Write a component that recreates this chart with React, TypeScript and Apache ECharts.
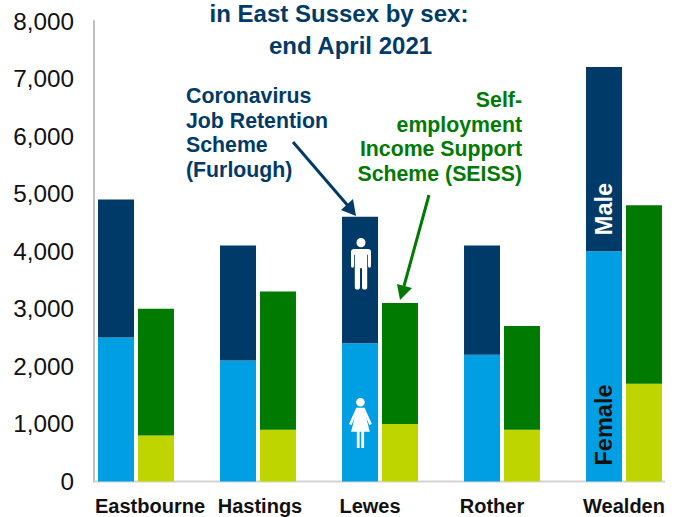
import React, { useEffect, useRef } from "react";
import * as echarts from "echarts";

const categories = ["Eastbourne", "Hastings", "Lewes", "Rother", "Wealden"];
const labelShifts = [14, 2, -10, -10, 0];
const furloughFemale = [2500, 2100, 2400, 2200, 4000];
const furloughMale = [2400, 2000, 2200, 1900, 3200];
const seissFemale = [800, 900, 1000, 900, 1700];
const seissMale = [2200, 2400, 2100, 1800, 3100];

const FONT = '"Liberation Sans", Arial, sans-serif';
const NAVY = "#003A69";
const GREEN = "#007A00";

echarts.graphic.registerShape(
  "maleIcon",
  echarts.graphic.extendPath(
    "M10 0a4.5 4.5 0 1 1 0 9a4.5 4.5 0 1 1 0-9zM3 10.5H17a3 3 0 0 1 3 3V27a1.5 1.5 0 0 1-3 0V16h-.8V47a2 2 0 0 1-5.2 0V29H9V47a2 2 0 0 1-5.2 0V16H3V27a1.5 1.5 0 0 1-3 0V13.5a3 3 0 0 1 3-3z",
    {}
  )
);
echarts.graphic.registerShape(
  "femaleIcon",
  echarts.graphic.extendPath(
    "M11 0a4.2 4.2 0 1 1 0 8.4a4.2 4.2 0 1 1 0-8.4zM7 9.5H15L22 25.5L19.5 26.5L16.5 19L20 33H14.5V49H11.8V33H10.2V49H7.5V33H2L5.5 19L2.5 26.5L0 25.5z",
    {}
  )
);

export default function App() {
  const ref = useRef<HTMLDivElement>(null);
  useEffect(() => {
    const chart = echarts.init(ref.current!, null, { renderer: "svg" });
    const bar = (name: string, stack: string, color: string, data: number[]) => ({
      name,
      type: "bar",
      stack,
      data,
      barWidth: 36,
      barGap: "11%",
      itemStyle: { color },
    });
    const text = (t: string, x: number, y: number, color: string, align: string, size = 21.3, lineHeight = 24.6) => ({
      type: "text",
      z: 10,
      x,
      y,
      style: { text: t, fill: color, font: `bold ${size}px ${FONT}`, align, lineHeight },
    });
    chart.setOption({
      animation: false,
      grid: { left: 75, width: 610, top: 21, bottom: 35.5, outerBoundsMode: "none" },
      xAxis: {
        type: "category",
        data: categories.map((value, i) => ({
          value,
          textStyle: {
            padding: labelShifts[i] >= 0 ? [0, 0, 0, 2 * labelShifts[i]] : [0, -2 * labelShifts[i], 0, 0],
          },
        })),
        axisLine: { show: false },
        axisTick: { show: false },
        axisLabel: { interval: 0, color: "#111", fontFamily: FONT, fontWeight: "bold", fontSize: 20, margin: 14, hideOverlap: false },
      },
      yAxis: {
        type: "value",
        min: 0,
        max: 8000,
        interval: 1000,
        offset: -19,
        splitLine: { show: false },
        axisLine: { show: true, lineStyle: { color: "#BFBFBF", width: 2 } },
        axisTick: { show: false },
        axisLabel: {
          color: "#111",
          fontFamily: FONT,
          fontSize: 24.3,
          margin: 20,
          formatter: (v: number) => v.toLocaleString("en-GB"),
        },
      },
      series: [
        bar("Furlough female", "furlough", "#009FE3", furloughFemale),
        bar("Furlough male", "furlough", NAVY, furloughMale),
        bar("SEISS female", "seiss", "#BFD500", seissFemale),
        bar("SEISS male", "seiss", GREEN, seissMale),
      ],
      graphic: [
        { type: "line", z: 1, shape: { x1: 94, y1: 481.5, x2: 665, y2: 481.5 }, style: { stroke: "#D4D4D4", lineWidth: 2 } },
        text("in East Sussex by sex:", 339, -3, NAVY, "center", 24, 32),
        text("end April 2021", 350.5, 29, NAVY, "center", 24, 32),
        text("Coronavirus\nJob Retention\nScheme\n(Furlough)", 186, 83.7, NAVY, "left"),
        text("Self-\nemployment\nIncome Support\nScheme (SEISS)", 522, 87.7, GREEN, "right"),
        { type: "line", z: 10, shape: { x1: 293, y1: 142, x2: 349, y2: 207 }, style: { stroke: NAVY, lineWidth: 3 } },
        { type: "polygon", z: 10, shape: { points: [[356, 216], [341, 210], [353, 199]] }, style: { fill: NAVY } },
        { type: "line", z: 10, shape: { x1: 429, y1: 195, x2: 404, y2: 286 }, style: { stroke: GREEN, lineWidth: 3 } },
        { type: "polygon", z: 10, shape: { points: [[400, 300], [397, 284], [412, 288]] }, style: { fill: GREEN } },
        { type: "maleIcon", z: 10, x: 351, y: 238, scaleX: 1, scaleY: 1.04, style: { fill: "#fff" } },
        { type: "femaleIcon", z: 10, x: 349, y: 398, scaleX: 1.04, scaleY: 1.02, style: { fill: "#fff" } },
        {
          type: "text", z: 10, x: 604, y: 209, rotation: Math.PI / 2,
          style: { text: "Male", fill: "#fff", font: `bold 23.5px ${FONT}`, align: "center", verticalAlign: "middle" },
        },
        {
          type: "text", z: 10, x: 604, y: 425, rotation: Math.PI / 2,
          style: { text: "Female", fill: "#111", font: `bold 23.5px ${FONT}`, align: "center", verticalAlign: "middle" },
        },
      ],
    });
    return () => chart.dispose();
  }, []);
  return <div ref={ref} style={{ position: "absolute", left: 0, top: 0, width: 682, height: 517, overflow: "hidden" }} />;
}
